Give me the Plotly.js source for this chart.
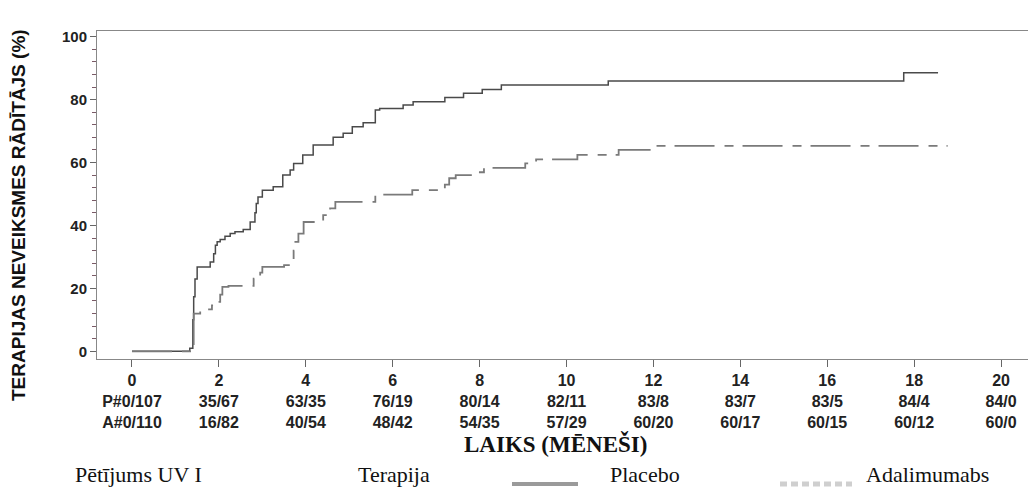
<!DOCTYPE html>
<html>
<head>
<meta charset="utf-8">
<script src="https://cdn.plot.ly/plotly-3.0.1.min.js"></script>
<style>
  html, body { margin: 0; padding: 0; background: #fff; }
  #chart { width: 1028px; height: 488px; }
</style>
</head>
<body>
<div id="chart"></div>
<script>
// ---- data ----
const placeboMonths = [0, 1.33, 1.40, 1.42, 1.45, 1.50, 1.80, 1.88, 1.92, 1.96, 2.03, 2.14, 2.26, 2.37, 2.56, 2.72, 2.83, 2.86, 2.90, 3.00, 3.25, 3.47, 3.64, 3.72, 3.93, 4.17, 4.63, 4.86, 5.07, 5.32, 5.60, 5.70, 6.24, 6.47, 7.20, 7.63, 8.06, 8.50, 10.96, 17.76, 18.55];
const placeboRate   = [0, 1.0, 10.0, 17.3, 23.0, 26.8, 28.4, 31.0, 33.7, 34.8, 35.5, 36.6, 37.4, 38.0, 38.7, 41.1, 44.0, 47.0, 49.0, 51.2, 52.3, 56.0, 57.6, 59.7, 62.4, 65.6, 68.0, 69.3, 71.4, 72.6, 76.7, 77.2, 78.3, 79.3, 80.7, 82.0, 83.2, 84.6, 85.9, 88.5, 88.5];

const adaMonths = [0, 1.40, 1.42, 1.57, 1.84, 1.94, 2.03, 2.08, 2.22, 2.80, 2.95, 3.00, 3.50, 3.72, 3.76, 3.83, 3.95, 4.40, 4.56, 4.68, 5.60, 6.45, 7.20, 7.30, 7.45, 7.80, 8.10, 9.05, 9.30, 10.25, 11.20, 12.07, 18.77];
const adaRate   = [0, 0, 12.0, 13.3, 14.6, 15.7, 18.0, 20.5, 20.8, 23.1, 25.0, 26.8, 27.4, 32.0, 34.8, 37.4, 41.1, 43.3, 45.4, 47.5, 49.8, 51.2, 53.0, 55.0, 56.0, 56.9, 58.3, 59.7, 61.0, 62.4, 64.0, 65.3, 65.3];

const tickMonths     = [0, 2, 4, 6, 8, 10, 12, 14, 16, 18, 20];
const placeboAtRisk  = ["P#0/107", "35/67", "63/35", "76/19", "80/14", "82/11", "83/8", "83/7", "83/5", "84/4", "84/0"];
const adaAtRisk      = ["A#0/110", "16/82", "40/54", "48/42", "54/35", "57/29", "60/20", "60/17", "60/15", "60/12", "60/0"];
const yTicks         = [0, 20, 40, 60, 80, 100];

const yTitle   = "TERAPIJAS NEVEIKSMES RĀDĪTĀJS (%)";
const xTitle   = "LAIKS (MĒNEŠI)";
const legendStudy = "Pētījums UV I";
const legendTherapy = "Terapija";
const seriesNames = ["Placebo", "Adalimumabs"];

// ---- chart ----
const sans = "Liberation Sans, Arial, Helvetica, sans-serif";
const serif = "Liberation Serif, Times New Roman, serif";

const traces = [
  {
    x: placeboMonths, y: placeboRate, name: seriesNames[0],
    type: "scatter", mode: "lines",
    line: { shape: "hv", color: "#4a4a4a", width: 1.5 },
    hoverinfo: "skip", showlegend: false
  },
  {
    x: adaMonths, y: adaRate, name: seriesNames[1],
    type: "scatter", mode: "lines",
    line: { shape: "hv", color: "#7a7a7a", width: 1.8, dash: "40px,10px,9px,9px" },
    hoverinfo: "skip", showlegend: false
  }
];

const tickText = tickMonths.map((m, i) => `${m}<br>${placeboAtRisk[i]}<br>${adaAtRisk[i]}`);

// plot area: left 97, right 1028, top 31, bottom 359
const L = 97, R = 0, T = 31, B = 129, W = 1028 - L - R, H = 488 - T - B;
const px = v => (v - L) / W;
const py = v => (488 - B - v) / H;

const layout = {
  width: 1028, height: 488,
  margin: { l: L, r: R, t: T, b: B, pad: 0 },
  paper_bgcolor: "#fff", plot_bgcolor: "#fff",
  showlegend: false,
  xaxis: {
    range: [-0.805, 20.62],
    tickvals: tickMonths, ticktext: tickText,
    ticks: "outside", ticklen: 7, tickcolor: "#666", tickwidth: 1,
    tickfont: { family: sans, size: 16, color: "#222", weight: "bold" },
    showline: true, linecolor: "#888", linewidth: 1, mirror: true,
    showgrid: false, zeroline: false
  },
  yaxis: {
    range: [-2.45, 101.8],
    tickvals: yTicks,
    ticks: "outside", ticklen: 6, tickcolor: "#666", tickwidth: 1,
    minor: { dtick: 4, tick0: 0, ticks: "outside", ticklen: 4, tickcolor: "#7a5a66", showgrid: false },
    tickfont: { family: sans, size: 15, color: "#222", weight: "bold" },
    showline: true, linecolor: "#888", linewidth: 1, mirror: false,
    showgrid: false, zeroline: false
  },
  annotations: [
    { text: yTitle, xref: "paper", yref: "paper", x: px(18), y: py(215), textangle: -90,
      showarrow: false, xanchor: "center", yanchor: "middle",
      font: { family: sans, size: 19, color: "#111", weight: "bold" } },
    { text: xTitle, xref: "paper", yref: "paper", x: px(555), y: py(444),
      showarrow: false, xanchor: "center", yanchor: "middle",
      font: { family: serif, size: 23, color: "#111", weight: "bold" } },
    { text: legendStudy, xref: "paper", yref: "paper", x: px(73), y: py(475),
      showarrow: false, xanchor: "left", yanchor: "middle",
      font: { family: serif, size: 22, color: "#111" } },
    { text: legendTherapy, xref: "paper", yref: "paper", x: px(356), y: py(475),
      showarrow: false, xanchor: "left", yanchor: "middle",
      font: { family: serif, size: 22, color: "#111" } },
    { text: seriesNames[0], xref: "paper", yref: "paper", x: px(608), y: py(475),
      showarrow: false, xanchor: "left", yanchor: "middle",
      font: { family: serif, size: 22, color: "#111" } },
    { text: seriesNames[1], xref: "paper", yref: "paper", x: px(864), y: py(475),
      showarrow: false, xanchor: "left", yanchor: "middle",
      font: { family: serif, size: 22, color: "#111" } }
  ],
  shapes: [
    { type: "line", xref: "paper", yref: "paper", x0: px(512), x1: px(578), y0: py(484), y1: py(484),
      line: { color: "#9a9a9a", width: 4 } },
    { type: "line", xref: "paper", yref: "paper", x0: px(780), x1: px(852), y0: py(484), y1: py(484),
      line: { color: "#cfcfcf", width: 5, dash: "7px,4px" } }
  ]
};

Plotly.newPlot("chart", traces, layout, { staticPlot: true, displayModeBar: false });
</script>
</body>
</html>
